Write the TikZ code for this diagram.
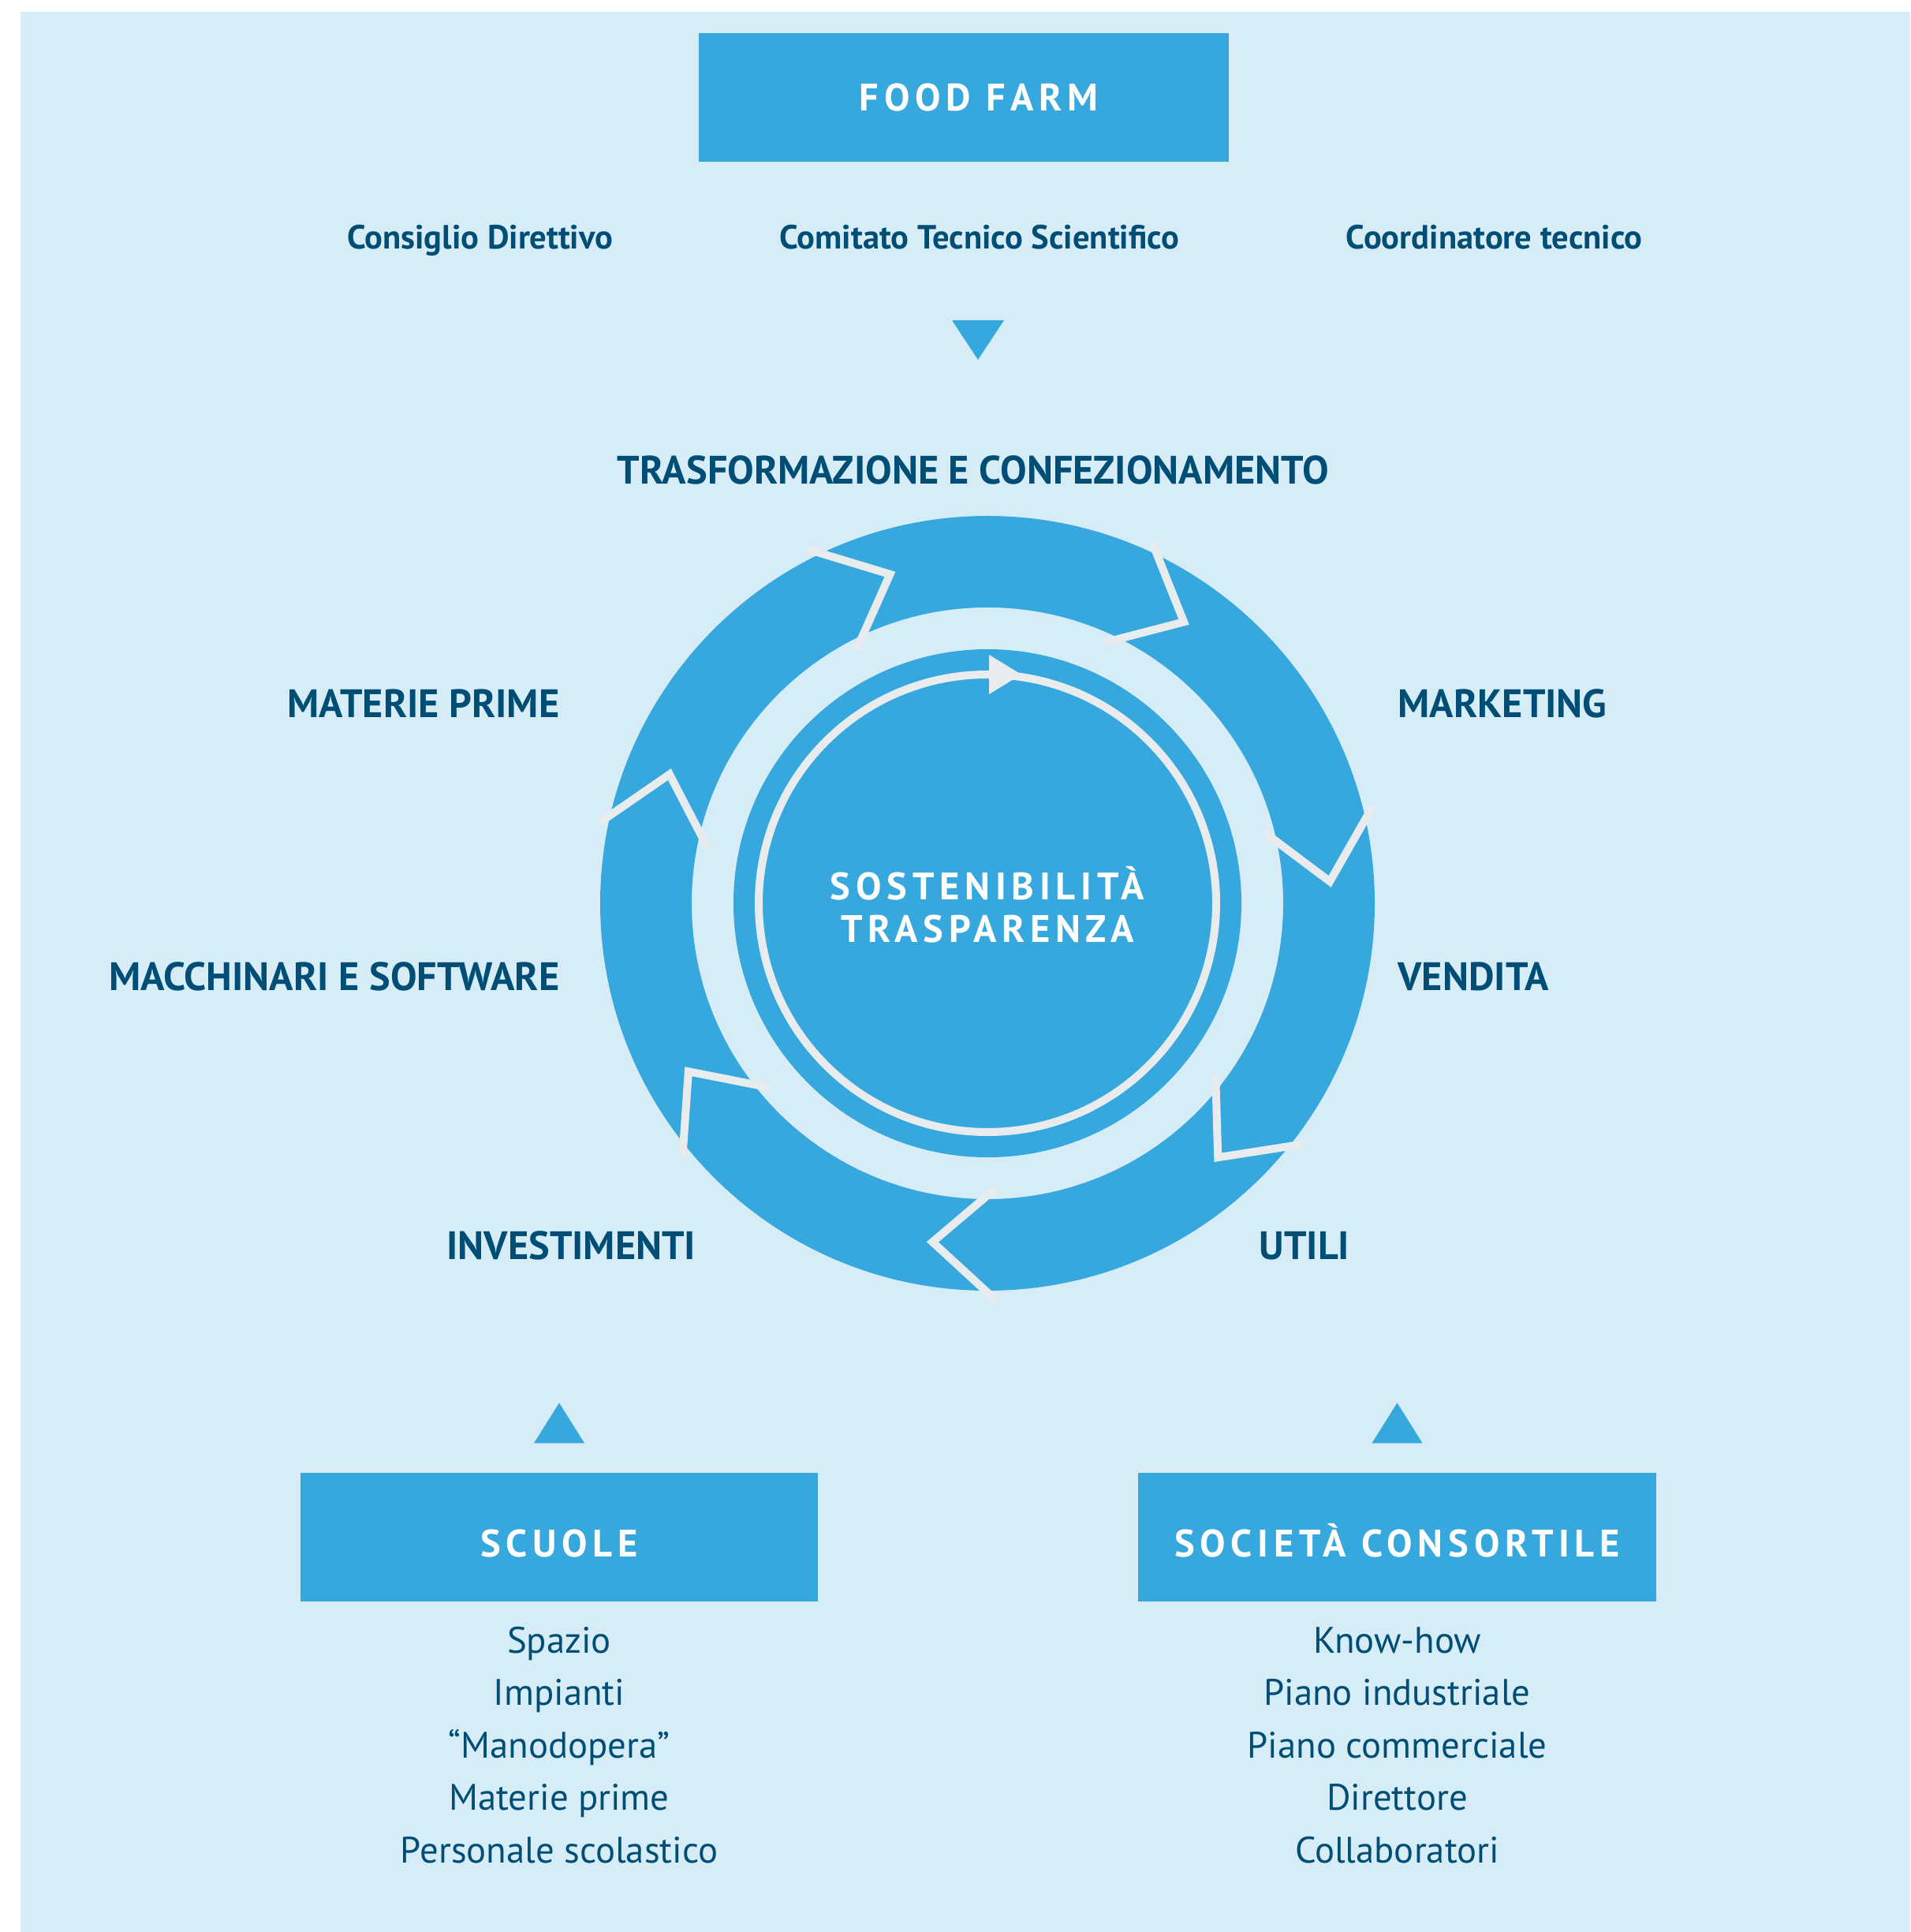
\documentclass[tikz,border=0pt]{standalone}
\usepackage{fontspec}
\setmainfont{PT Sans}
\usetikzlibrary{positioning}
\definecolor{paleblue}{RGB}{214,237,247}
\definecolor{ringblue}{RGB}{55,168,221}
\definecolor{inkblue}{RGB}{0,77,117}
\definecolor{offwhite}{RGB}{232,236,238}

\begin{document}
\begin{tikzpicture}[
  bluebox/.style={fill=ringblue, minimum width=6.56cm, minimum height=1.63cm, inner sep=0pt,
    text=white, font=\bfseries\fontsize{13.8}{16}\selectfont\addfontfeature{LetterSpace=14}},
  lowtext/.style={text height=0.49cm, text depth=0pt},
  body/.style={text=inkblue, inner sep=0pt, text height=0.3cm, text depth=0.08cm,
    font=\bfseries\fontsize{12.1}{14}\selectfont},
  stage/.style={text=inkblue, inner sep=0pt, font=\bfseries\fontsize{14.3}{16}\selectfont},
  centre/.style={text=white, inner sep=0pt,
    font=\bfseries\fontsize{13.8}{16}\selectfont\addfontfeature{LetterSpace=14}},
  item/.style={text=inkblue, inner sep=0pt, text height=0.32cm, text depth=0.09cm,
    font=\fontsize{13.3}{15}\selectfont},
  chevron/.style={draw=offwhite, line width=0.1cm, miter limit=10}
]
\useasboundingbox (0,0) rectangle (24.22,-24.49);
\fill[paleblue] (0.26,-0.15) rectangle (24.22,-24.49);

\node[bluebox, minimum width=6.72cm] (farm) at (12.22,-1.235) {\hspace*{0.38cm}FOOD FARM};
\node[body] (comitato) at (12.42,-3.05) {Comitato Tecnico Scientifico};
\node[body, left=2.1cm of comitato] (consiglio) {Consiglio Direttivo};
\node[body, right=2.1cm of comitato] (coordinatore) {Coordinatore tecnico};
\coordinate (down) at (12.40,-4.06);
\fill[ringblue] (down) ++(-0.33,0) -- ++(0.66,0) -- ++(-0.33,-0.5) -- cycle;

\begin{scope}[shift={(12.52,-11.45)}]
  \fill[ringblue, even odd rule] (0,0) circle (4.91) (0,0) circle (3.75);
  \fill[ringblue] (0,0) circle (3.22);
  \draw[offwhite, line width=0.1cm] (0,0) circle (2.90);
  \fill[offwhite] (0.02,3.15) -- (0.43,2.90) -- (0.02,2.65) -- cycle;
  \foreach \k in {0,...,6}{
    \pgfmathsetmacro\base{116.9-\k*360/7}
    \pgfmathsetmacro\tip{\base-10.4}
    \draw[chevron] (\base:5.03) -- (\tip:4.35) -- ({\base+0.4}:3.62);
  }
\end{scope}

\node[centre, anchor=base] (sostenibilita) at (12.52,-11.40) {SOSTENIBILITÀ};
\node[centre, anchor=base] (trasparenza) at (12.52,-11.94) {TRASPARENZA};

\node[stage] (trasformazione) at (12.34,-5.96) {TRASFORMAZIONE E CONFEZIONAMENTO};
\node[stage, anchor=west] (marketing) at (17.72,-8.92) {MARKETING};
\node[stage, anchor=west] (vendita) at (17.72,-12.38) {VENDITA};
\node[stage, anchor=west] (utili) at (15.96,-15.79) {UTILI};
\node[stage, anchor=east] (investimenti) at (8.83,-15.79) {INVESTIMENTI};
\node[stage, anchor=east] (macchinari) at (7.10,-12.38) {MACCHINARI E SOFTWARE};
\node[stage, anchor=east] (materie) at (7.10,-8.92) {MATERIE PRIME};

\node[bluebox, lowtext] (scuole) at (7.09,-19.485) {SCUOLE};
\node[bluebox, lowtext, minimum width=6.57cm] (societa) at (17.715,-19.485) {SOCIETÀ CONSORTILE};
\fill[ringblue] ([yshift=0.37cm]scuole.north) ++(-0.32,0) -- ++(0.64,0) -- ++(-0.32,0.51) -- cycle;
\fill[ringblue] ([yshift=0.37cm]societa.north) ++(-0.32,0) -- ++(0.64,0) -- ++(-0.32,0.51) -- cycle;

\node[item, below=0.32cm of scuole] (spazio) {Spazio};
\node[item, below=0.24cm of spazio] (impianti) {Impianti};
\node[item, below=0.24cm of impianti] (manodopera) {“Manodopera”};
\node[item, below=0.24cm of manodopera] (materieprime) {Materie prime};
\node[item, below=0.24cm of materieprime] (personale) {Personale scolastico};

\node[item, below=0.32cm of societa] (knowhow) {Know-how};
\node[item, below=0.24cm of knowhow] (industriale) {Piano industriale};
\node[item, below=0.24cm of industriale] (commerciale) {Piano commerciale};
\node[item, below=0.24cm of commerciale] (direttore) {Direttore};
\node[item, below=0.24cm of direttore] (collaboratori) {Collaboratori};
\end{tikzpicture}
\end{document}
